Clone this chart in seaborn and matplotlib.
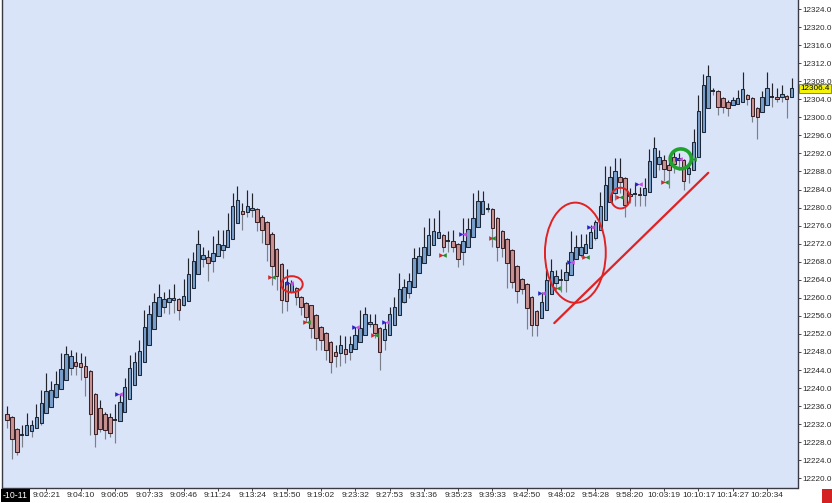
import numpy as np
import pandas as pd
import matplotlib
matplotlib.use('Agg')
import matplotlib.pyplot as plt
from matplotlib.patches import Ellipse, Rectangle
import seaborn as sns

# OHLC bars (one per bar, left to right)
opens = [12234.25, 12233.5, 12231.0, 12229.5, 12229.5, 12230.5, 12231.25, 12232.25, 12234.5, 12235.75,
         12238.0, 12239.75, 12241.75, 12244.5, 12245.75, 12245.5, 12245.0, 12243.75, 12238.75, 12235.5,
         12234.25, 12233.5, 12233.0, 12232.75, 12234.75, 12237.5, 12240.75, 12243.0, 12245.75, 12249.5,
         12253.0, 12256.0, 12258.0, 12259.0, 12259.5, 12259.75, 12258.5, 12259.25, 12262.25, 12265.25,
         12268.5, 12269.0, 12268.25, 12269.25, 12270.5, 12271.25, 12273.0, 12276.5, 12279.25, 12279.0,
         12279.5, 12279.75, 12278.0, 12276.75, 12274.25, 12270.75, 12267.5, 12263.5, 12261.25, 12262.25,
         12260.25, 12258.75, 12258.5, 12256.25, 12253.5, 12252.25, 12250.25, 12248.0, 12247.75, 12248.75,
         12248.0, 12248.75, 12250.25, 12251.75, 12254.25, 12254.25, 12253.25, 12250.75, 12251.75, 12254.0,
         12256.25, 12259.0, 12261.0, 12262.5, 12265.5, 12267.75, 12269.5, 12271.75, 12273.25, 12274.0,
         12272.5, 12272.5, 12272.0, 12270.25, 12271.25, 12273.5, 12275.75, 12278.5, 12279.75, 12279.75,
         12277.75, 12274.75, 12273.0, 12270.5, 12267.0, 12264.25, 12263.0, 12260.25, 12257.0, 12255.5,
         12257.25, 12260.75, 12263.25, 12264.0, 12264.0, 12265.0, 12268.5, 12269.5, 12270.0, 12271.0,
         12273.25, 12275.0, 12277.25, 12281.25, 12283.25, 12286.75, 12286.5, 12282.5, 12283.0, 12283.0,
         12282.75, 12283.5, 12286.75, 12289.75, 12290.5, 12289.5, 12291.25, 12290.5, 12290.5, 12287.5,
         12288.25, 12291.25, 12296.75, 12302.0, 12305.75, 12305.75, 12304.25, 12303.5, 12302.75, 12303.0,
         12303.5, 12305.0, 12304.25, 12302.0, 12301.25, 12302.75, 12304.5, 12304.5, 12304.5, 12304.75,
         12304.5]
highs = [12236.0, 12233.75, 12231.25, 12231.75, 12234.5, 12233.0, 12236.5, 12239.5, 12243.25, 12241.5,
         12243.75, 12247.75, 12249.25, 12248.5, 12248.0, 12247.75, 12247.0, 12244.0, 12239.0, 12237.25,
         12234.75, 12234.5, 12236.5, 12238.75, 12242.25, 12247.25, 12248.0, 12250.75, 12257.25, 12258.5,
         12261.0, 12263.0, 12261.25, 12262.0, 12263.0, 12260.0, 12264.25, 12268.75, 12270.25, 12275.0,
         12271.25, 12270.5, 12273.75, 12275.0, 12275.0, 12278.75, 12283.25, 12284.75, 12281.0, 12284.0,
         12283.25, 12280.0, 12278.25, 12277.0, 12274.5, 12271.0, 12267.75, 12266.5, 12264.0, 12262.5,
         12260.5, 12259.0, 12258.5, 12256.5, 12253.75, 12252.5, 12250.5, 12249.5, 12251.75, 12251.5,
         12251.5, 12253.5, 12257.25, 12258.0, 12256.5, 12256.5, 12253.5, 12254.75, 12258.0, 12260.25,
         12265.5, 12264.25, 12265.5, 12271.0, 12271.25, 12275.75, 12277.75, 12277.75, 12279.5, 12274.25,
         12274.75, 12275.0, 12272.25, 12277.75, 12277.75, 12283.25, 12284.0, 12283.75, 12281.0, 12280.0,
         12278.0, 12275.0, 12273.25, 12270.75, 12267.25, 12264.5, 12263.25, 12260.5, 12257.25, 12261.25,
         12266.25, 12268.5, 12266.25, 12266.5, 12268.0, 12274.75, 12274.0, 12274.25, 12274.25, 12276.25,
         12277.25, 12283.5, 12289.25, 12289.25, 12291.0, 12291.0, 12286.75, 12284.25, 12285.5, 12284.5,
         12286.5, 12293.0, 12295.75, 12292.75, 12291.75, 12291.75, 12292.75, 12292.0, 12290.75, 12289.5,
         12297.5, 12305.0, 12309.5, 12311.5, 12306.5, 12306.0, 12304.5, 12303.75, 12304.5, 12306.0,
         12310.0, 12305.25, 12304.5, 12302.25, 12305.75, 12310.0, 12307.5, 12306.5, 12307.25, 12305.0,
         12308.75]
lows = [12231.25, 12224.25, 12225.25, 12227.0, 12229.5, 12229.25, 12231.25, 12231.75, 12234.5, 12235.75,
        12237.75, 12239.75, 12241.75, 12243.0, 12243.0, 12241.75, 12238.25, 12229.5, 12227.0, 12230.25,
        12228.75, 12229.25, 12227.75, 12232.75, 12234.75, 12237.5, 12240.75, 12243.0, 12245.75, 12249.5,
        12253.0, 12256.0, 12256.75, 12256.5, 12256.75, 12255.0, 12258.25, 12259.25, 12262.25, 12265.25,
        12266.75, 12263.75, 12265.75, 12269.25, 12268.75, 12271.25, 12273.0, 12276.5, 12275.0, 12278.0,
        12278.0, 12274.75, 12272.25, 12268.25, 12262.75, 12261.75, 12256.75, 12257.0, 12261.0, 12258.5,
        12256.25, 12254.75, 12251.0, 12248.5, 12248.5, 12246.25, 12243.25, 12244.75, 12245.0, 12245.5,
        12246.25, 12248.75, 12250.25, 12251.75, 12253.5, 12251.0, 12244.0, 12248.5, 12251.75, 12254.0,
        12256.25, 12258.75, 12260.0, 12262.5, 12265.5, 12267.75, 12269.5, 12271.75, 12273.25, 12270.25,
        12270.25, 12270.25, 12266.75, 12267.25, 12271.25, 12273.5, 12275.75, 12278.5, 12279.0, 12271.25,
        12268.25, 12269.0, 12262.25, 12262.25, 12258.75, 12260.75, 12253.0, 12251.5, 12251.5, 12255.5,
        12257.25, 12260.75, 12261.75, 12261.25, 12261.25, 12265.0, 12268.5, 12269.0, 12270.0, 12271.0,
        12272.75, 12275.0, 12277.25, 12281.25, 12281.75, 12283.25, 12278.0, 12281.0, 12280.25, 12280.25,
        12280.25, 12283.5, 12286.75, 12288.25, 12286.0, 12284.25, 12287.75, 12288.25, 12284.0, 12285.5,
        12288.25, 12291.25, 12296.75, 12302.0, 12305.0, 12300.5, 12301.0, 12300.25, 12302.75, 12303.0,
        12303.5, 12302.75, 12299.0, 12295.25, 12301.25, 12302.75, 12302.25, 12303.5, 12303.5, 12299.75,
        12304.5]
closes = [12233.0, 12228.75, 12225.75, 12229.75, 12231.75, 12231.75, 12233.5, 12236.75, 12239.25, 12239.5,
          12241.0, 12244.25, 12247.5, 12247.0, 12245.0, 12244.75, 12242.5, 12234.25, 12229.75, 12231.0,
          12230.75, 12230.0, 12233.0, 12237.0, 12240.25, 12244.5, 12245.75, 12248.25, 12253.5, 12256.5,
          12259.0, 12260.25, 12259.75, 12260.0, 12260.0, 12257.25, 12260.5, 12265.25, 12268.25, 12272.0,
          12269.5, 12267.75, 12270.0, 12272.0, 12271.75, 12275.0, 12280.25, 12281.75, 12278.5, 12280.25,
          12280.0, 12276.75, 12275.0, 12272.0, 12267.0, 12264.75, 12259.5, 12259.25, 12263.25, 12260.25,
          12258.0, 12255.75, 12253.25, 12251.0, 12250.75, 12248.5, 12245.75, 12247.0, 12249.5, 12247.5,
          12249.75, 12251.75, 12253.25, 12256.5, 12254.75, 12252.25, 12248.0, 12253.0, 12256.5, 12258.0,
          12262.0, 12262.5, 12263.75, 12268.75, 12269.25, 12271.25, 12274.0, 12274.75, 12274.5, 12271.25,
          12272.5, 12271.25, 12268.5, 12272.5, 12275.25, 12277.75, 12281.5, 12281.5, 12280.0, 12275.5,
          12271.25, 12271.0, 12267.75, 12263.5, 12261.5, 12262.0, 12257.75, 12254.0, 12254.0, 12259.0,
          12264.0, 12266.0, 12264.75, 12264.0, 12265.75, 12270.25, 12271.25, 12271.25, 12272.0, 12274.5,
          12276.75, 12280.25, 12285.0, 12286.75, 12288.0, 12285.75, 12280.5, 12283.0, 12283.0, 12282.75,
          12284.25, 12290.25, 12293.25, 12291.25, 12288.5, 12288.25, 12289.75, 12291.0, 12286.0, 12288.75,
          12294.5, 12301.5, 12307.25, 12309.25, 12305.75, 12302.25, 12302.25, 12302.0, 12303.75, 12304.25,
          12306.25, 12304.0, 12300.25, 12300.0, 12304.5, 12306.5, 12304.5, 12304.0, 12305.25, 12304.0,
          12306.4]

# time labels on the x axis (every 7th bar, starting at bar 8)
time_labels = ['9:02:21', '9:04:10', '9:06:05', '9:07:33', '9:09:46', '9:11:24', '9:13:24', '9:15:50',
               '9:19:02', '9:23:32', '9:27:53', '9:31:36', '9:35:23', '9:39:33', '9:42:50', '9:48:02',
               '9:54:28', '9:58:20', '10:03:19', '10:10:17', '10:14:27', '10:20:34']
price_ticks = np.arange(12220, 12325, 4)
last_price = 12306.4

# execution markers: bar position, price, kind
marker_bar = [22.7, 54.0, 57.7, 61.0, 71.0, 74.9, 77.1, 88.8, 92.9, 98.9, 108.9, 112.1,
              115.0, 117.9, 119.0, 124.9, 128.7, 134.0, 136.9]
marker_price = [12238.7, 12264.7, 12263.2, 12254.7, 12253.6, 12251.8, 12254.7, 12269.6, 12274.1,
                12273.2, 12261.1, 12262.1, 12268.0, 12269.1, 12275.6, 12282.3, 12285.2, 12285.6, 12290.7]
marker_kind = ['buy', 'sell', 'buy', 'sell', 'buy', 'sell', 'buy', 'sell', 'buy', 'sell', 'buy', 'sell',
               'buy', 'sell', 'buy', 'sell', 'buy', 'sell', 'buy']

df = pd.DataFrame({'open': opens, 'high': highs, 'low': lows, 'close': closes})
df['bar'] = np.arange(len(df))
df['top'] = df[['open', 'close']].max(axis=1)
df['bottom'] = df[['open', 'close']].min(axis=1)

sns.set_style('white')
plt.rcParams['font.family'] = ['Liberation Sans', 'DejaVu Sans']

fig = plt.figure(figsize=(8.32, 5.03), dpi=100)
fig.patch.set_facecolor('white')
ax = fig.add_axes([2 / 832, 15.5 / 503, 795.5 / 832, 487.5 / 503])
ax.set_facecolor('#dae4f9')

# wicks
ax.vlines(df['bar'], df['top'], df['high'], color='#22242c', linewidth=0.85, zorder=1)
ax.vlines(df['bar'], df['low'], df['bottom'], color='#7a808a', linewidth=0.85, zorder=1)

# bodies
up = df[df['close'] > df['open']]
down = df[df['close'] < df['open']]
flat = df[df['close'] == df['open']]
ax.bar(up['bar'], up['top'] - up['bottom'], bottom=up['bottom'], width=0.72,
       color='#789fca', edgecolor='#1c2838', linewidth=0.75, zorder=2)
ax.bar(down['bar'], down['top'] - down['bottom'], bottom=down['bottom'], width=0.72,
       color='#c79291', edgecolor='#3a2226', linewidth=0.75, zorder=2)
ax.hlines(flat['open'], flat['bar'] - 0.4, flat['bar'] + 0.4, color='#1c1c24', linewidth=1.3, zorder=2)

# execution markers (two small inward triangles)
mk = pd.DataFrame({'bar': marker_bar, 'price': marker_price, 'kind': marker_kind})
colors = {'buy': ('#2626c8', '#c24ee0'), 'sell': ('#d02a2a', '#2a8a2a')}
for kind, (c_left, c_right) in colors.items():
    sub = mk[mk['kind'] == kind]
    sns.scatterplot(x=sub['bar'] - 0.3, y=sub['price'], marker='>', color=c_left, s=11,
                    linewidth=0, ax=ax, zorder=4, legend=False)
    sns.scatterplot(x=sub['bar'] + 0.3, y=sub['price'], marker='<', color=c_right, s=11,
                    linewidth=0, ax=ax, zorder=4, legend=False)
sns.scatterplot(x=[140.1], y=[12290.7], marker='<', color='#2a8a2a', s=11, linewidth=0,
                ax=ax, zorder=4, legend=False)

# hand-drawn annotations
ax.add_patch(Ellipse((58.1, 12263.0), 4.4, 3.6, fill=False, edgecolor='#e02222', linewidth=1.4, zorder=5))
ax.add_patch(Ellipse((115.9, 12270.0), 12.4, 22.2, fill=False, edgecolor='#e02222', linewidth=1.4, zorder=5))
ax.add_patch(Ellipse((125.1, 12282.1), 3.9, 4.6, fill=False, edgecolor='#e02222', linewidth=1.4, zorder=5))
ax.add_patch(Ellipse((137.4, 12290.8), 4.3, 4.4, fill=False, edgecolor='#1fa22e', linewidth=2.6, zorder=5))
ax.plot([111.6, 143.0], [12254.4, 12287.7], color='#e02222', linewidth=1.6, zorder=5)

ax.set_xlim(-1.02, 161.2)
ax.set_ylim(12217.97, 12326.0)

ax.yaxis.tick_right()
ax.set_yticks(price_ticks)
ax.set_yticklabels([f'{p:.1f}' for p in price_ticks])
ax.set_xticks(np.arange(8, 8 + 7 * len(time_labels), 7))
ax.set_xticklabels(time_labels)
ax.tick_params(axis='y', which='both', right=True, left=False, length=2.5, width=0.6,
               pad=1.0, labelsize=5.9, colors='#2a2a2a')
ax.tick_params(axis='x', which='both', bottom=True, length=2, width=0.6,
               pad=1.5, labelsize=6.0, colors='#2a2a2a')
ax.set_xlabel('')
ax.set_ylabel('')

for side in ['left', 'right', 'bottom']:
    ax.spines[side].set_visible(True)
    ax.spines[side].set_color('#3a3a44')
    ax.spines[side].set_linewidth(1.0)
ax.spines['top'].set_visible(False)

# last price tag
ax.text(1.004, last_price, f'{last_price:.1f}', transform=ax.get_yaxis_transform(),
        ha='left', va='center', fontsize=5.9, color='black',
        bbox=dict(boxstyle='square,pad=0.15', facecolor='#f2f20a', edgecolor='#555555', linewidth=0.5))

# date label (clipped at left edge) and status box
fig.text(3 / 832, 1 - 495.5 / 503, '-10-11', ha='left', va='center', fontsize=6.3, color='white',
         bbox=dict(boxstyle='square,pad=0.2', facecolor='black', edgecolor='none'))
fig.add_artist(Rectangle((822 / 832, 0), 10 / 832, 14 / 503, transform=fig.transFigure,
                         facecolor='#d42222', edgecolor='none'))

fig.savefig('out.png', dpi=100)
